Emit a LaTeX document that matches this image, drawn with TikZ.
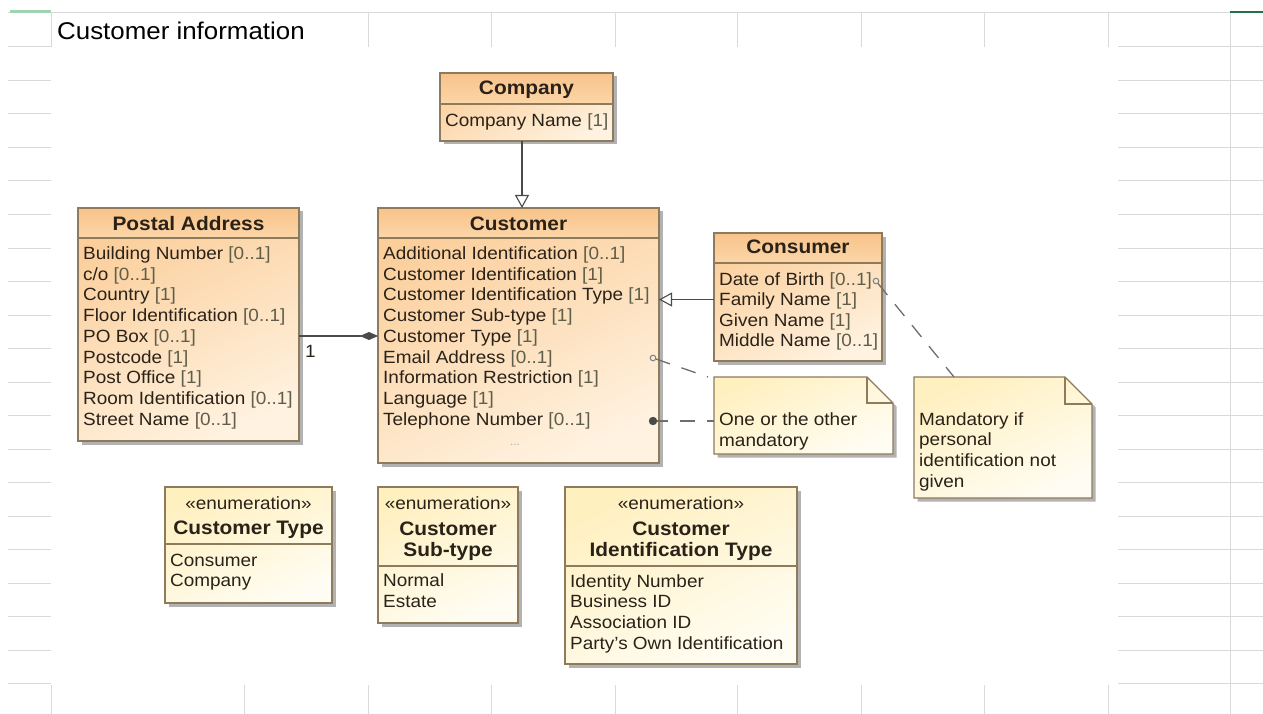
\documentclass[tikz,border=0pt]{standalone}
\usepackage{fontspec}
\setmainfont{Liberation Sans}[FakeStretch=1.07]
\usetikzlibrary{arrows.meta,shadows,calc}
\definecolor{bordc}{HTML}{8E7B5C}
\definecolor{headA}{HTML}{F8C38A}
\definecolor{headB}{HTML}{FCD6A8}
\definecolor{bodyA}{HTML}{FBCE9A}
\definecolor{bodyB}{HTML}{FFF2E0}
\definecolor{noteA}{HTML}{FFF0C0}
\definecolor{noteB}{HTML}{FFFDF3}
\definecolor{gridc}{HTML}{D9D9D9}
\definecolor{txt}{HTML}{2A2218}
\definecolor{multc}{HTML}{5E5E4A}
\definecolor{linec}{HTML}{4A4A4A}
\definecolor{greenA}{HTML}{9FD4B2}
\definecolor{greenB}{HTML}{217346}
\newcommand\attrfont{\fontsize{17.7}{20.7}\selectfont}
\newcommand\hdfont{\fontsize{19.5}{21}\selectfont\bfseries}
\newcommand\mlt[1]{\textcolor{multc}{#1}}
\begin{document}
\begin{tikzpicture}[x=1pt,y=-1pt,
  grid/.style={draw=gridc, line width=1pt},
  shad/.style={drop shadow={shadow xshift=3.5pt, shadow yshift=-3.5pt, fill=black, opacity=0.3}},
  cbody/.style={draw=bordc, line width=1.1pt, top color=bodyA, bottom color=bodyB, shading angle=25, inner sep=0pt, outer sep=0pt, shad},
  chead/.style={draw=bordc, line width=1.1pt, top color=headA, bottom color=headB, inner sep=0pt, outer sep=0pt},
  ebody/.style={draw=bordc, line width=1.1pt, top color=noteA, bottom color=noteB, shading angle=25, inner sep=0pt, outer sep=0pt, shad},
  ehead/.style={draw=bordc, line width=1.1pt, inner sep=0pt, outer sep=0pt},
  attr/.style={anchor=base west, inner sep=0pt, text=txt, font=\attrfont},
  hd/.style={anchor=base, inner sep=0pt, text=txt, font=\hdfont},
  st/.style={anchor=base, inner sep=0pt, text=txt, font=\attrfont},
  genl/.style={draw=linec, line width=1.2pt, -{Triangle[length=13pt,width=14pt,fill=white,line width=1.1pt]}},
  assoc/.style={draw=linec, line width=1.2pt, -{Diamond[length=18pt,width=8pt]}},
  notel/.style={draw=linec!80, line width=1.3pt, dash pattern=on 15pt off 12pt},
  notetxt/.style={anchor=base west, inner sep=0pt, text=txt, font=\attrfont}
]
\useasboundingbox (0,0) rectangle (1263,714);
\fill[white] (0,0) rectangle (1263,714);

% spreadsheet grid
\foreach \k in {0,...,19} {
  \draw[grid] (8,{47+33.5*\k}) -- (51,{47+33.5*\k});
  \draw[grid] (1118,{47+33.5*\k}) -- (1263,{47+33.5*\k});
}
\draw[grid] (8,13) -- (1263,13);
\foreach \xx in {51,368,491,615,737,861,984,1108} {
  \draw[grid] (\xx,13) -- (\xx,47);
}
\foreach \xx in {51,244,368,491,615,737,861,984,1108} {
  \draw[grid] (\xx,685) -- (\xx,714);
}
\draw[grid] (1230,13) -- (1230,714);
\draw[greenA, line width=3pt] (10,11.5) -- (51,11.5);
\draw[greenB, line width=2pt] (1230,12.5) -- (1263,12.5);

% title
\node[anchor=base west, inner sep=0pt, font=\fontsize{24.2}{28}\selectfont, text=black] (title) at (57,40) {Customer information};

% Company
\node[cbody, minimum width=173pt, minimum height=68pt, anchor=north west] (company) at (440,73) {};
\node[chead, minimum width=173pt, minimum height=31pt, anchor=north west] (companyh) at (440,73) {};
\node[hd] (companyt) at (526.5,95) {Company};
\node[attr] (co1) at (445,126.5) {Company Name \mlt{[1]}};

% Customer
\node[cbody, minimum width=281pt, minimum height=255pt, anchor=north west] (customer) at (378,208) {};
\node[chead, minimum width=281pt, minimum height=30pt, anchor=north west] (customerh) at (378,208) {};
\node[hd] (customert) at (518.5,230) {Customer};
\foreach \t [count=\i] in {{Additional Identification \mlt{[0..1]}},{Customer Identification \mlt{[1]}},{Customer Identification Type \mlt{[1]}},{Customer Sub-type \mlt{[1]}},{Customer Type \mlt{[1]}},{Email Address \mlt{[0..1]}},{Information Restriction \mlt{[1]}},{Language \mlt{[1]}},{Telephone Number \mlt{[0..1]}}} {
  \node[attr] (cu\i) at (383,{259.5+20.7*(\i-1)}) {\t};
}
\node[anchor=base, inner sep=0pt, text=gray!70, font=\fontsize{11}{11}\selectfont] (cudots) at (515,445) {...};

% Postal Address
\node[cbody, minimum width=221pt, minimum height=233pt, anchor=north west] (postal) at (78,208) {};
\node[chead, minimum width=221pt, minimum height=30pt, anchor=north west] (postalh) at (78,208) {};
\node[hd] (postalt) at (188.5,230) {Postal Address};
\foreach \t [count=\i] in {{Building Number \mlt{[0..1]}},{c/o \mlt{[0..1]}},{Country \mlt{[1]}},{Floor Identification \mlt{[0..1]}},{PO Box \mlt{[0..1]}},{Postcode \mlt{[1]}},{Post Office \mlt{[1]}},{Room Identification \mlt{[0..1]}},{Street Name \mlt{[0..1]}}} {
  \node[attr] (pa\i) at (83,{259.5+20.7*(\i-1)}) {\t};
}

% Consumer
\node[cbody, minimum width=168pt, minimum height=128pt, anchor=north west] (consumer) at (714,233) {};
\node[chead, minimum width=168pt, minimum height=30pt, anchor=north west] (consumerh) at (714,233) {};
\node[hd] (consumert) at (798,253.5) {Consumer};
\foreach \t [count=\i] in {{Date of Birth \mlt{[0..1]}},{Family Name \mlt{[1]}},{Given Name \mlt{[1]}},{Middle Name \mlt{[0..1]}}} {
  \node[attr] (cn\i) at (719,{285+20.6*(\i-1)}) {\t};
}

% Enumeration: Customer Type
\node[ebody, minimum width=167pt, minimum height=116pt, anchor=north west] (ect) at (165,487) {};
\node[ehead, minimum width=167pt, minimum height=57pt, anchor=north west] (ecth) at (165,487) {};
\node[st] (ects) at (248.5,509) {«enumeration»};
\node[hd] (ectt) at (248.5,534) {Customer Type};
\node[attr] (ect1) at (170,566) {Consumer};
\node[attr] (ect2) at (170,586.7) {Company};

% Enumeration: Customer Sub-type
\node[ebody, minimum width=140pt, minimum height=136pt, anchor=north west] (ecs) at (378,487) {};
\node[ehead, minimum width=140pt, minimum height=79pt, anchor=north west] (ecsh) at (378,487) {};
\node[st] (ecss) at (448,509) {«enumeration»};
\node[hd] (ecst1) at (448,535) {Customer};
\node[hd] (ecst2) at (448,556) {Sub-type};
\node[attr] (ecs1) at (383,586.5) {Normal};
\node[attr] (ecs2) at (383,607.2) {Estate};

% Enumeration: Customer Identification Type
\node[ebody, minimum width=232pt, minimum height=177pt, anchor=north west] (eci) at (565,487) {};
\node[ehead, minimum width=232pt, minimum height=79pt, anchor=north west] (ecih) at (565,487) {};
\node[st] (ecis) at (681,509) {«enumeration»};
\node[hd] (ecit1) at (681,535) {Customer};
\node[hd] (ecit2) at (681,556) {Identification Type};
\foreach \t [count=\i] in {{Identity Number},{Business ID},{Association ID},{Party's Own Identification}} {
  \node[attr] (eci\i) at (570,{587+20.7*(\i-1)}) {\t};
}

% Note 1
\fill[black, opacity=0.3] (717.5,380.5) -- (870.5,380.5) -- (896.5,406.5) -- (896.5,457.5) -- (717.5,457.5) -- cycle;
\shade[top color=noteA, bottom color=noteB, shading angle=25, draw=bordc, line width=1.1pt] (714,377) -- (867,377) -- (893,403) -- (893,454) -- (714,454) -- cycle;
\draw[bordc, line width=1.1pt] (867,377) -- (867,403) -- (893,403);
\node[inner sep=0pt, minimum width=179pt, minimum height=77pt, anchor=north west] (n1) at (714,377) {};
\node[notetxt] (n1a) at (719,425.5) {One or the other};
\node[notetxt] (n1b) at (719,446.2) {mandatory};

% Note 2
\fill[black, opacity=0.3] (917.5,380.5) -- (1068.5,380.5) -- (1095.5,407.5) -- (1095.5,501.5) -- (917.5,501.5) -- cycle;
\shade[top color=noteA, bottom color=noteB, shading angle=25, draw=bordc, line width=1.1pt] (914,377) -- (1065,377) -- (1092,404) -- (1092,498) -- (914,498) -- cycle;
\draw[bordc, line width=1.1pt] (1065,377) -- (1065,404) -- (1092,404);
\node[inner sep=0pt, minimum width=178pt, minimum height=121pt, anchor=north west] (n2) at (914,377) {};
\node[notetxt] (n2a) at (919,425) {Mandatory if};
\node[notetxt] (n2b) at (919,445.7) {personal};
\node[notetxt] (n2c) at (919,466.4) {identification not};
\node[notetxt] (n2d) at (919,487.1) {given};

% connectors
\coordinate (gx) at (522,0);
\draw[genl] (company.south -| gx) -- (customerh.north -| gx);
\coordinate (gy) at (0,299.5);
\draw[genl] (consumer.west |- gy) -- (customer.east |- gy);
\coordinate (ay) at (0,336);
\draw[assoc] (postal.east |- ay) -- (customer.west |- ay);
\node[anchor=base west, inner sep=0pt, text=txt, font=\attrfont] (mult1) at (305,357) {1};

\coordinate (e1) at (653,358);
\coordinate (e2) at (653,421);
\coordinate (e3) at (876,281);
\coordinate (n2t) at (954,377);
\draw[notel, shorten <=3pt] (e1) -- ($(n1.north west)+(-6,0)$);
\draw[notel] (e2) -- (n1.west |- e2);
\draw[notel, shorten <=3pt] (e3) -- (n2t);
\draw[linec!70, line width=1pt] (e1) circle (2.8pt);
\draw[linec!70, line width=1pt] (e3) circle (2.8pt);
\fill[linec] (e2) circle (4.2pt);
\end{tikzpicture}
\end{document}
